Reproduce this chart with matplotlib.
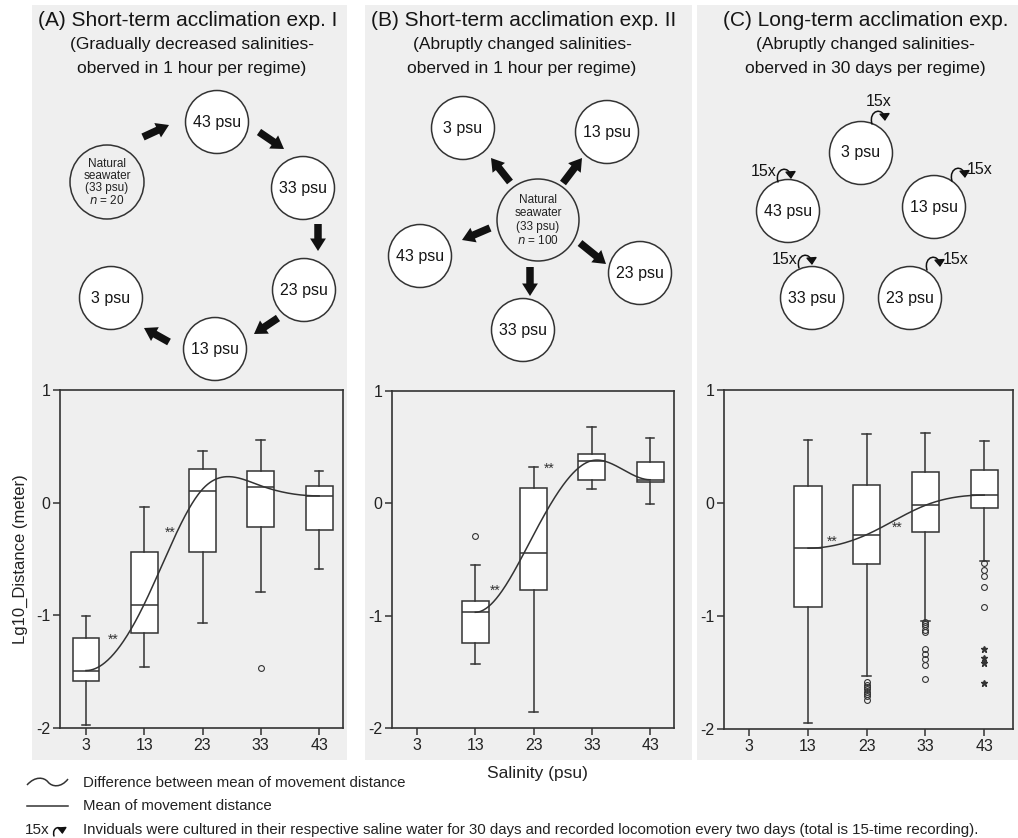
import numpy as np
import matplotlib
matplotlib.use('Agg')
import matplotlib.pyplot as plt
from matplotlib.patches import Circle, Rectangle, FancyArrowPatch, PathPatch
from matplotlib.path import Path

plt.rcParams['font.family'] = ['Liberation Sans', 'DejaVu Sans']

# ---------------- data ----------------
salinity_labels = ['3', '13', '23', '33', '43']

# Panel A (short-term exp. I), salinities 3..43
a_positions = [0, 1, 2, 3, 4]
a_whislo = [-1.97, -1.46, -1.07, -0.79, -0.59]
a_q1 = [-1.58, -1.16, -0.44, -0.22, -0.24]
a_med = [-1.49, -0.91, 0.10, 0.14, 0.06]
a_q3 = [-1.20, -0.44, 0.30, 0.28, 0.15]
a_whishi = [-1.01, -0.035, 0.46, 0.56, 0.28]
a_fliers = [[], [], [], [-1.47], []]
a_extremes = [[], [], [], [], []]
a_mean = [-1.49, -0.90, 0.12, 0.15, 0.06]

# Panel B (short-term exp. II), salinities 13..43
b_positions = [1, 2, 3, 4]
b_whislo = [-1.43, -1.86, 0.13, -0.01]
b_q1 = [-1.24, -0.775, 0.21, 0.19]
b_med = [-0.97, -0.44, 0.38, 0.21]
b_q3 = [-0.87, 0.14, 0.44, 0.37]
b_whishi = [-0.55, 0.32, 0.68, 0.58]
b_fliers = [[-0.29], [], [], []]
b_extremes = [[], [], [], []]
b_mean = [-0.97, -0.28, 0.38, 0.21]

# Panel C (long-term exp.), salinities 13..43
c_positions = [1, 2, 3, 4]
c_whislo = [-1.95, -1.53, -1.04, -0.51]
c_q1 = [-0.92, -0.54, -0.26, -0.04]
c_med = [-0.40, -0.28, -0.02, 0.07]
c_q3 = [0.15, 0.16, 0.27, 0.29]
c_whishi = [0.555, 0.61, 0.62, 0.546]
c_fliers = [[],
            [-1.58, -1.61, -1.63, -1.65, -1.67, -1.69, -1.71, -1.74],
            [-1.05, -1.07, -1.09, -1.12, -1.14, -1.29, -1.34, -1.38, -1.43, -1.56],
            [-0.53, -0.59, -0.65, -0.74, -0.92]]
c_extremes = [[], [], [], [-1.29, -1.37, -1.42, -1.59]]
c_mean = [-0.40, -0.28, -0.02, 0.07]

# significance marks (position, value)
a_sig = [(0.46, -1.22), (1.44, -0.27)]
b_sig = [(1.34, -0.78), (2.27, 0.31)]
c_sig = [(1.41, -0.34), (2.52, -0.22)]

# ---------------- helpers ----------------
W, H = 1018, 838
DARK = '#333333'
GRAY = '#efefef'
TXT = '#151515'


def clamped_spline(x, y, xs):
    x = np.asarray(x, float)
    y = np.asarray(y, float)
    n = len(x)
    h = np.diff(x)
    A = np.zeros((n, n))
    r = np.zeros(n)
    A[0, 0], A[0, 1] = 2 * h[0], h[0]
    r[0] = 6 * ((y[1] - y[0]) / h[0])
    for i in range(1, n - 1):
        A[i, i - 1] = h[i - 1]
        A[i, i] = 2 * (h[i - 1] + h[i])
        A[i, i + 1] = h[i]
        r[i] = 6 * ((y[i + 1] - y[i]) / h[i] - (y[i] - y[i - 1]) / h[i - 1])
    A[-1, -2], A[-1, -1] = h[-1], 2 * h[-1]
    r[-1] = 6 * (0 - (y[-1] - y[-2]) / h[-1])
    M = np.linalg.solve(A, r)
    out = np.empty_like(xs)
    for k, xv in enumerate(xs):
        i = min(max(np.searchsorted(x, xv) - 1, 0), n - 2)
        hi = h[i]
        a = x[i + 1] - xv
        b = xv - x[i]
        out[k] = (M[i] * a ** 3 / (6 * hi) + M[i + 1] * b ** 3 / (6 * hi)
                  + (y[i] / hi - M[i] * hi / 6) * a + (y[i + 1] / hi - M[i + 1] * hi / 6) * b)
    return out


def px_axes(l, r, t, b):
    return [l / W, 1 - b / H, (r - l) / W, (b - t) / H]


fig = plt.figure(figsize=(W / 100, H / 100), dpi=100)
fig.patch.set_facecolor('white')

bg = fig.add_axes([0, 0, 1, 1])
bg.set_xlim(0, W)
bg.set_ylim(H, 0)
bg.axis('off')
bg.set_zorder(0)

for (x0, x1) in [(32, 347), (365, 692), (697, 1018)]:
    bg.add_patch(Rectangle((x0, 5), x1 - x0, 755, facecolor=GRAY, edgecolor='none'))

# titles
titles = [(188, '(A) Short-term acclimation exp. I', 192,
           '(Gradually decreased salinities-', 'oberved in 1 hour per regime)'),
          (524, '(B) Short-term acclimation exp. II', 522,
           '(Abruptly changed salinities-', 'oberved in 1 hour per regime)'),
          (866, '(C) Long-term acclimation exp.', 865,
           '(Abruptly changed salinities-', 'oberved in 30 days per regime)')]
for tx, t, sx, s1, s2 in titles:
    bg.text(tx, 20, t, ha='center', va='center', fontsize=15, color=TXT)
    bg.text(sx, 45, s1, ha='center', va='center', fontsize=12.5, color=TXT)
    bg.text(sx, 69, s2, ha='center', va='center', fontsize=12.5, color=TXT)


def circle(cx, cy, r, label=None, fs=11.5):
    bg.add_patch(Circle((cx, cy), r, facecolor='white', edgecolor=DARK, lw=1.1, zorder=2))
    if label:
        bg.text(cx, cy, label, ha='center', va='center', fontsize=fs, color=TXT, zorder=3)


def natural(cx, cy, r, n, dy):
    bg.add_patch(Circle((cx, cy), r, facecolor=GRAY, edgecolor=DARK, lw=1.1, zorder=2))
    lines = ['Natural', 'seawater', '(33 psu)', r'$\it{n}$ = ' + n]
    for i, s in enumerate(lines):
        bg.text(cx, cy + (i - 1.5) * dy, s, ha='center', va='center', fontsize=8.5,
                color='#222', zorder=3)


def arrow(p0, p1):
    bg.add_patch(FancyArrowPatch(p0, p1,
                                 arrowstyle='simple,head_length=0.75,head_width=0.95,tail_width=0.45',
                                 mutation_scale=12, color='#111', lw=0, zorder=3,
                                 shrinkA=0, shrinkB=0))


def curl(x0, y0, s=1.0, ms=7):
    verts = [(x0, y0), (x0 - 4 * s, y0 - 14 * s), (x0 + 12 * s, y0 - 18 * s),
             (x0 + 13 * s, y0 - 3 * s)]
    p = Path(verts, [Path.MOVETO, Path.CURVE4, Path.CURVE4, Path.CURVE4])
    bg.add_patch(FancyArrowPatch(path=p, arrowstyle='-|>,head_length=0.6,head_width=0.45',
                                 mutation_scale=ms, color='#111', lw=1.1, zorder=3,
                                 shrinkA=0, shrinkB=0))


# Diagram A
natural(107, 182, 37, '20', 12)
for (cx, cy, lab) in [(217, 122, '43 psu'), (303, 188, '33 psu'), (304, 290, '23 psu'),
                      (215, 349, '13 psu'), (111, 298, '3 psu')]:
    circle(cx, cy, 31.5, lab)
arrow((143, 137), (169, 125))
arrow((259, 132), (284, 149))
arrow((318, 224), (318, 251))
arrow((278, 318), (254, 334))
arrow((169, 342), (144, 328))

# Diagram B
natural(538, 220, 41, '100', 13.5)
for (cx, cy, lab) in [(463, 128, '3 psu'), (607, 132, '13 psu'), (420, 256, '43 psu'),
                      (640, 273, '23 psu'), (523, 330, '33 psu')]:
    circle(cx, cy, 31.5, lab)
arrow((510, 182), (491, 158))
arrow((563, 183), (582, 158))
arrow((490, 228), (462, 240))
arrow((580, 243), (606, 264))
arrow((530, 267), (530, 296))

# Diagram C
c_circ = [(861, 153, '3 psu'), (934, 207, '13 psu'), (788, 211, '43 psu'),
          (812, 298, '33 psu'), (910, 298, '23 psu')]
for (cx, cy, lab) in c_circ:
    circle(cx, cy, 31.5, lab)
curl(872, 124)
bg.text(879, 102, '15x', ha='center', va='center', fontsize=11.5, color=TXT)
curl(952, 181)
bg.text(967, 170, '15x', ha='left', va='center', fontsize=11.5, color=TXT)
curl(778, 182)
bg.text(777, 172, '15x', ha='right', va='center', fontsize=11.5, color=TXT)
curl(799, 268)
bg.text(798, 259, '15x', ha='right', va='center', fontsize=11.5, color=TXT)
curl(927, 270)
bg.text(943, 259, '15x', ha='left', va='center', fontsize=11.5, color=TXT)

# bottom legend
wave = Path([(27, 785), (35, 776), (44, 777), (48, 782), (52, 787), (61, 788), (68, 779)],
            [Path.MOVETO, Path.CURVE4, Path.CURVE4, Path.CURVE4, Path.CURVE4, Path.CURVE4, Path.CURVE4])
bg.add_patch(PathPatch(wave, facecolor='none', edgecolor=DARK, lw=1.1))
bg.text(83, 783, 'Difference between mean of movement distance', ha='left', va='center',
        fontsize=10.8, color='#222')
bg.plot([27, 68], [806, 806], color=DARK, lw=1.1)
bg.text(83, 806, 'Mean of movement distance', ha='left', va='center', fontsize=10.8, color='#222')
bg.text(25, 830, '15x', ha='left', va='center', fontsize=11, color='#222')
curl(54, 836, s=0.65, ms=6)
bg.text(83, 830, 'Inviduals were cultured in their respective saline water for 30 days and '
        'recorded locomotion every two days (total is 15-time recording).',
        ha='left', va='center', fontsize=10.8, color='#222')
bg.text(537, 773, 'Salinity (psu)', ha='center', va='center', fontsize=12.5, color='#222')


# ---------------- box plots ----------------
def panel(rect, xlim, positions, whislo, q1, med, q3, whishi, fliers, extremes, means, sig,
          ylabel=False):
    ax = fig.add_axes(px_axes(*rect))
    ax.set_zorder(1)
    ax.set_facecolor(GRAY)
    stats = []
    for i in range(len(positions)):
        stats.append(dict(med=med[i], q1=q1[i], q3=q3[i], whislo=whislo[i], whishi=whishi[i],
                          fliers=fliers[i]))
    ax.bxp(stats, positions=positions, widths=0.46, patch_artist=True, capwidths=0.15,
           boxprops=dict(facecolor='white', edgecolor=DARK, lw=1.1),
           medianprops=dict(color=DARK, lw=1.1),
           whiskerprops=dict(color=DARK, lw=1.1),
           capprops=dict(color=DARK, lw=1.1),
           flierprops=dict(marker='o', markersize=4.2, markerfacecolor='none',
                           markeredgecolor=DARK, markeredgewidth=0.8))
    for p, ex in zip(positions, extremes):
        if ex:
            ax.plot([p] * len(ex), ex, ls='none', marker='*', markersize=4.5, color=DARK)
    xs = np.linspace(positions[0], positions[-1], 300)
    ax.plot(xs, clamped_spline(positions, means, xs), color=DARK, lw=1.1, zorder=5)
    for (sx, sy) in sig:
        ax.text(sx, sy, '**', ha='center', va='center', fontsize=10, color='#333', zorder=6)
    ax.set_xlim(*xlim)
    ax.set_ylim(-2, 1)
    ax.set_xticks(range(5))
    ax.set_xticklabels(salinity_labels)
    ax.set_yticks([-2, -1, 0, 1])
    ax.set_yticklabels(['-2', '-1', '0', '1'])
    ax.tick_params(direction='out', length=5, width=1.1, color=DARK, labelsize=11.5,
                   labelcolor='#222', pad=2)
    for s in ax.spines.values():
        s.set_color(DARK)
        s.set_linewidth(1.2)
    if ylabel:
        ax.set_ylabel('Lg10_Distance (meter)', fontsize=12, color='#222', labelpad=6)
    return ax


panel((60, 343, 390, 728), (-0.446, 4.41), a_positions, a_whislo, a_q1, a_med, a_q3, a_whishi,
      a_fliers, a_extremes, a_mean, a_sig, ylabel=True)
panel((392, 674, 391, 728), (-0.43, 4.41), b_positions, b_whislo, b_q1, b_med, b_q3, b_whishi,
      b_fliers, b_extremes, b_mean, b_sig)
panel((724, 1013, 390, 729), (-0.43, 4.49), c_positions, c_whislo, c_q1, c_med, c_q3, c_whishi,
      c_fliers, c_extremes, c_mean, c_sig)

fig.savefig('out.png', dpi=100, facecolor='white')
